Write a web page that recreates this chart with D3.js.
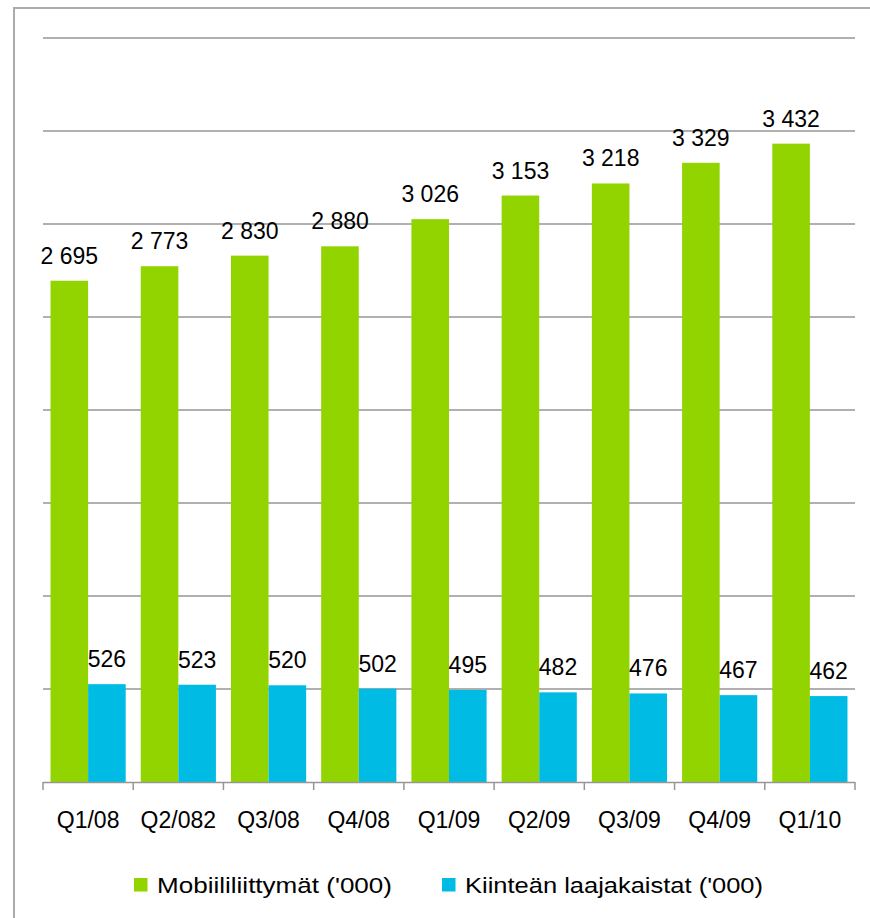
<!DOCTYPE html>
<html>
<head>
<meta charset="utf-8">
<script src="https://cdn.jsdelivr.net/npm/d3@7"></script>
<style>
  html, body { margin: 0; padding: 0; background: #fff; }
  svg { display: block; font-family: "Liberation Sans", Arial, sans-serif; }
</style>
</head>
<body>
<div class="graph-pane"></div>
<script>
// quarters and the two series (thousands)
const quarters = ["Q1/08", "Q2/082", "Q3/08", "Q4/08", "Q1/09", "Q2/09", "Q3/09", "Q4/09", "Q1/10"];
const mobile = [2695, 2773, 2830, 2880, 3026, 3153, 3218, 3329, 3432];
const broadband = [526, 523, 520, 502, 495, 482, 476, 467, 462];
const seriesNames = ["Mobiililiittymät ('000)", "Kiinteän laajakaistat ('000)"];
const seriesColors = ["#92d400", "#00bce4"];
const yTicks = [0, 500, 1000, 1500, 2000, 2500, 3000, 3500, 4000];

const width = 870, height = 918;
const fmt = d3.formatLocale({decimal: ",", thousands: " ", grouping: [3], currency: ["", ""]}).format(",d");

const svg = d3.select('.graph-pane')
  .append('svg')
  .attr('width', width)
  .attr('height', height);

// outer frame, runs off the right and bottom edges
svg.append('rect')
  .attr('x', 14).attr('y', 8)
  .attr('width', width).attr('height', height)
  .attr('fill', 'none')
  .attr('stroke', '#ababab')
  .attr('stroke-width', 2);

const xScale = d3.scaleBand()
  .domain(quarters)
  .range([43, 855])
  .padding(0);

const xInner = d3.scaleBand()
  .domain([0, 1])
  .range([0, xScale.bandwidth()])
  .paddingInner(0)
  .paddingOuter(0.2);

const yScale = d3.scaleLinear()
  .domain([0, 4000])
  .range([782, 38]);

// gridlines
svg.append('g')
  .selectAll('line')
  .data(yTicks.slice(1))
  .join('line')
  .attr('x1', 43).attr('x2', 855)
  .attr('y1', d => yScale(d)).attr('y2', d => yScale(d))
  .attr('stroke', '#969696')
  .attr('stroke-width', 1.5);

const rows = quarters.map((q, i) => ({q: q, vals: [mobile[i], broadband[i]]}));

const groups = svg.append('g')
  .selectAll('g')
  .data(rows)
  .join('g')
  .attr('transform', d => 'translate(' + xScale(d.q) + ',0)');

groups.selectAll('rect')
  .data(d => d.vals)
  .join('rect')
  .attr('x', (d, i) => xInner(i))
  .attr('width', xInner.bandwidth())
  .attr('y', d => yScale(d))
  .attr('height', d => yScale(0) - yScale(d))
  .attr('fill', (d, i) => seriesColors[i]);

groups.selectAll('text')
  .data(d => d.vals)
  .join('text')
  .attr('x', (d, i) => xInner(i) + xInner.bandwidth() / 2)
  .attr('y', d => yScale(d) - 17)
  .attr('text-anchor', 'middle')
  .attr('font-size', 23)
  .attr('fill', '#000')
  .text(d => fmt(d));

// x axis with ticks between categories
const xAxis = svg.append('g');
xAxis.append('line')
  .attr('x1', 43).attr('x2', 855)
  .attr('y1', 782.5).attr('y2', 782.5)
  .attr('stroke', '#969696')
  .attr('stroke-width', 1.5);
xAxis.selectAll('.tick')
  .data(quarters.concat(['end']))
  .join('line')
  .attr('class', 'tick')
  .attr('x1', (d, i) => i < quarters.length ? xScale(d) : xScale.range()[1])
  .attr('x2', (d, i) => i < quarters.length ? xScale(d) : xScale.range()[1])
  .attr('y1', 782).attr('y2', 790)
  .attr('stroke', '#969696')
  .attr('stroke-width', 1.5);
xAxis.selectAll('text')
  .data(quarters)
  .join('text')
  .attr('x', d => xScale(d) + xScale.bandwidth() / 2)
  .attr('y', 828)
  .attr('text-anchor', 'middle')
  .attr('font-size', 23)
  .text(d => d);

// legend (text is drawn a bit wider than its height, as in the original)
const legendX = [134, 442];
const legendTextWidth = [235, 298];
const legend = svg.append('g')
  .selectAll('g')
  .data(seriesNames)
  .join('g')
  .attr('transform', (d, i) => 'translate(' + legendX[i] + ',878)');
legend.append('rect')
  .attr('width', 13.5).attr('height', 13.5)
  .attr('fill', (d, i) => seriesColors[i]);
legend.append('text')
  .attr('x', 23).attr('y', 15)
  .attr('font-size', 22)
  .attr('textLength', (d, i) => legendTextWidth[i])
  .attr('lengthAdjust', 'spacingAndGlyphs')
  .text(d => d);
</script>
</body>
</html>
